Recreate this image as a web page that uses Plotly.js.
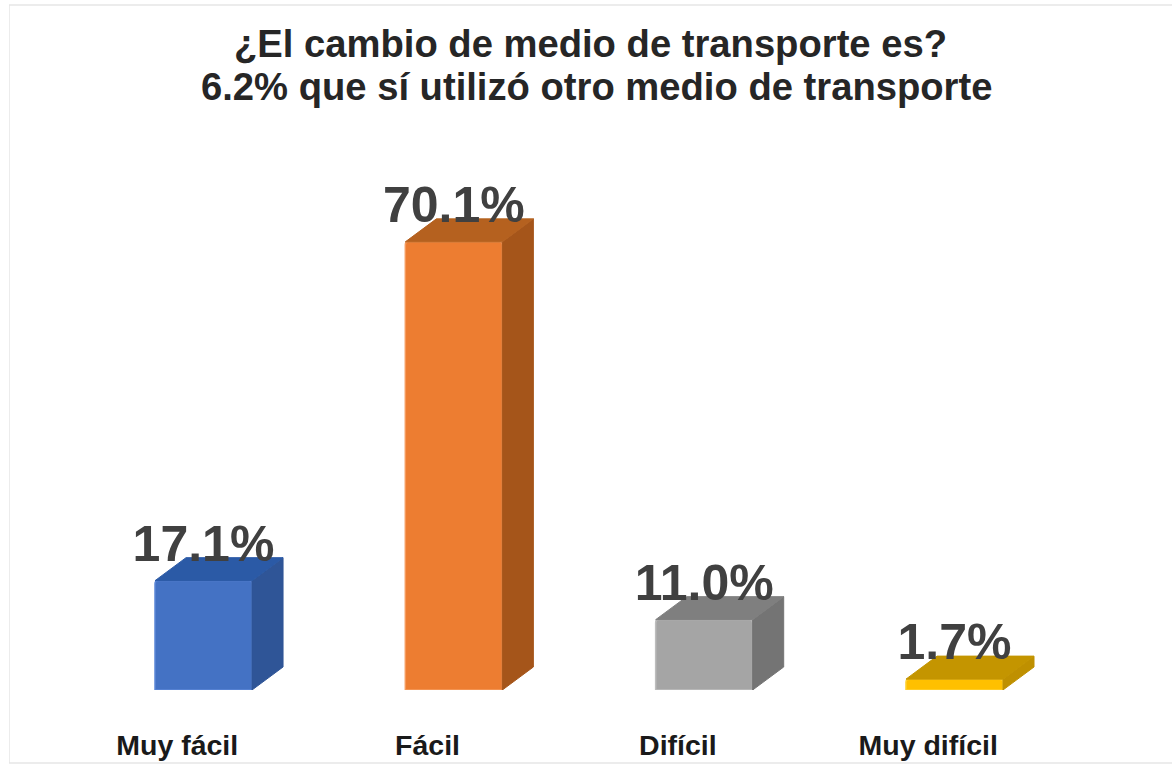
<!DOCTYPE html>
<html>
<head>
<meta charset="utf-8">
<script src="https://cdn.plot.ly/plotly-3.0.1.min.js"></script>
<style>html,body{margin:0;padding:0;background:#fff;overflow:hidden}</style>
</head>
<body>
<div id="chart" style="width:1172px;height:769px"></div>
<script>
const categories = ["Muy fácil", "Fácil", "Difícil", "Muy difícil"];
const values = [17.1, 70.1, 11.0, 1.7];
const frontColors = ["#4472C4", "#ED7D31", "#A5A5A5", "#FFC000"];
const edgeColors = ["#5B86D6", "#F59A5C", "#BDBDBD", "#FFD030"];
const topColors = ["#2B5AA6", "#B5611F", "#7F7F7F", "#C49500"];
const sideColors = ["#2F5597", "#A5551A", "#747474", "#BF9000"];
const titleLine1 = "¿El cambio de medio de transporte es?";
const titleLine2 = "6.2% que sí utilizó otro medio de transporte";

const positions = categories.map((_, i) => i);
const barWidth = 0.3875;
const depthX = 0.124;
const depthY = 3.6;
const labelLift = 1.15;
const tickShift = -0.105;
const font = "'Liberation Sans', Arial, sans-serif";
const titleFont = {family: font, size: 38.2, color: "#262626", weight: 700};

const traces = [{
  type: "bar", x: positions, y: values, width: barWidth,
  marker: {color: frontColors, line: {color: edgeColors, width: 1.5}, cornerradius: 3},
  hoverinfo: "skip", showlegend: false
}];

positions.forEach((p, i) => {
  const l = p - barWidth / 2, r = p + barWidth / 2, v = values[i];
  traces.push({
    type: "scatter", mode: "lines", fill: "toself", fillcolor: sideColors[i],
    x: [r, r + depthX, r + depthX, r, r],
    y: [0, depthY, v + depthY, v, 0],
    line: {width: 1, color: sideColors[i]}, hoverinfo: "skip", showlegend: false
  });
  traces.push({
    type: "scatter", mode: "lines", fill: "toself", fillcolor: topColors[i],
    x: [l, l + depthX, r + depthX, r, l],
    y: [v, v + depthY, v + depthY, v, v],
    line: {width: 1, color: topColors[i]}, hoverinfo: "skip", showlegend: false
  });
});

traces.push({
  type: "scatter", mode: "text", x: positions,
  y: values.map(v => v + labelLift),
  text: values.map(v => v.toFixed(1) + "%"),
  textposition: "top center",
  textfont: {family: font, size: 50, color: "#404040", weight: 700},
  cliponaxis: false, hoverinfo: "skip", showlegend: false
});

const layout = {
  width: 1172, height: 769,
  margin: {l: 9, r: 0, t: 130, b: 79},
  paper_bgcolor: "#ffffff", plot_bgcolor: "#ffffff",
  showlegend: false,
  title: {
    text: titleLine1,
    font: titleFont,
    x: 0.5, xanchor: "center", xref: "paper", yref: "container", y: 0.961, yanchor: "top"
  },
  annotations: [{
    text: titleLine2, font: titleFont, showarrow: false,
    xref: "paper", yref: "paper", x: 0.505, y: 1.0768, xanchor: "center", yanchor: "middle"
  }],
  xaxis: {
    range: [-0.777, 3.869], tickmode: "array",
    tickvals: positions.map(p => p + tickShift), ticktext: categories,
    tickfont: {family: font, size: 28.5, color: "#1a1a1a", weight: 700},
    ticks: "", ticklabelstandoff: 35, showgrid: false, zeroline: false, showline: false
  },
  yaxis: {range: [0, 87.6], visible: false, showgrid: false, zeroline: false},
  shapes: [{
    type: "rect", xref: "x", yref: "paper", x0: -0.777, x1: 3.9, y0: -0.1303, y1: 1.2232,
    line: {color: "#e6e6e6", width: 1.5}, fillcolor: "rgba(0,0,0,0)", layer: "below"
  }]
};

Plotly.newPlot("chart", traces, layout, {displayModeBar: false, staticPlot: true});
</script>
</body>
</html>
